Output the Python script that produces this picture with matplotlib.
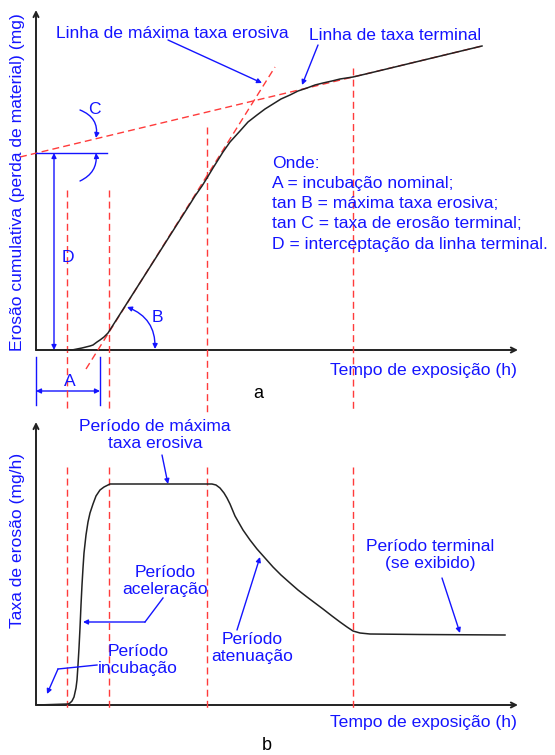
import matplotlib.pyplot as plt
from matplotlib.patches import FancyArrowPatch

plt.rcParams['font.family'] = ['Liberation Sans', 'DejaVu Sans']

AZUL = '#1414ff'
VERM = '#ff3b3b'
FS = 12.6

# (a) erosao cumulativa x tempo (unidades do esquema)
tempo_a = [29, 36, 41, 46, 50, 54, 57, 61, 64, 68, 72, 114, 154, 159, 166,
           171, 177, 182, 187, 194, 204, 212, 221, 229, 237, 245, 254, 262,
           271, 279, 287, 296, 304, 317, 334, 446]
erosao_a = [0, 0, 1, 2, 3, 4, 5, 8, 10, 13, 17, 83, 146, 154, 164,
            172, 182, 190, 198, 208, 219, 228, 235, 241, 246, 251, 255, 259,
            262, 265, 267, 269, 271, 273, 277, 304]
linha_max_x = [50, 239]
linha_max_y = [-19, 283]
linha_term_x = [-16, 446]
linha_term_y = [193, 304]
D_valor = 197
A_valor = 64

# (b) taxa de erosao x tempo
tempo_b = [1, 32, 34, 36, 38, 40, 41, 42, 43, 44, 45, 46, 47, 48, 50, 52,
           54, 57, 60, 64, 68, 74, 176, 180, 184, 188, 191, 194, 199, 207,
           214, 221, 229, 237, 245, 254, 262, 271, 279, 287, 296, 304, 311,
           317, 324, 334, 384, 469]
taxa_b = [0, 1, 2, 4, 8, 17, 25, 40, 57, 77, 100, 120, 137, 152, 170, 183,
          192, 201, 209, 215, 218, 221, 221, 220, 217, 212, 207, 201, 189, 175,
          165, 156, 147, 138, 130, 122, 115, 108, 102, 96, 89, 83, 78,
          74, 72, 71, 70.5, 70]

# limites dos periodos
periodos = [31, 73, 171, 317]
topo_a = [160, 160, 223, 282]

legenda = ['Onde:',
           'A = incubação nominal;',
           'tan B = máxima taxa erosiva;',
           'tan C = taxa de erosão terminal;',
           'D = interceptação da linha terminal.']

fig = plt.figure(figsize=(5.55, 7.55), dpi=100)
ax_a = fig.add_axes([0, 340 / 755, 1, 415 / 755])
ax_b = fig.add_axes([0, 0, 1, 340 / 755])
ax_a.set_xlim(-36, 519)
ax_a.set_ylim(-65, 350)
ax_b.set_xlim(-36, 519)
ax_b.set_ylim(-50, 290)
for ax in (ax_a, ax_b):
    ax.axis('off')
    ax.patch.set_alpha(0)

tracejado = (0, (5, 3))


def seta(ax, p0, p1, estilo='-|>', rad=0.0, cor=AZUL, lw=1.0, ms=8):
    ax.add_patch(FancyArrowPatch(p0, p1, arrowstyle=estilo, mutation_scale=ms,
                                 connectionstyle=f'arc3,rad={rad}', color=cor,
                                 lw=lw, shrinkA=0, shrinkB=0, clip_on=False))


def eixos(ax, topo):
    seta(ax, (0, 0), (0, topo), estilo='->', cor='#222222', lw=1.4, ms=9)
    seta(ax, (0, 0), (482, 0), estilo='->', cor='#222222', lw=1.4, ms=9)


# ---------- painel a ----------
eixos(ax_a, 340)
for x, t in zip(periodos, topo_a):
    ax_a.plot([x, x], [t, -62], color=VERM, lw=1.0, ls=tracejado, clip_on=False)
ax_a.plot(linha_max_x, linha_max_y, color=VERM, lw=1.0, ls=tracejado)
ax_a.plot(linha_term_x, linha_term_y, color=VERM, lw=1.0, ls=tracejado, clip_on=False)
ax_a.plot(tempo_a, erosao_a, color='#222222', lw=1.1)

# D
ax_a.plot([0, 71], [D_valor, D_valor], color=AZUL, lw=1.0)
seta(ax_a, (18, D_valor), (18, 0), estilo='<|-|>', ms=7)
ax_a.text(32, 92, 'D', color=AZUL, fontsize=FS, ha='center', va='center')

# C
seta(ax_a, (44, 240), (60, 212), rad=-0.4, ms=7)
seta(ax_a, (44, 169), (60, D_valor), rad=0.35, ms=7)
ax_a.text(58, 241, 'C', color=AZUL, fontsize=FS, ha='center', va='center')

# B
seta(ax_a, (119, 1), (91, 43), estilo='<|-|>', rad=0.35, ms=7)
ax_a.text(121, 32, 'B', color=AZUL, fontsize=FS, ha='center', va='center')

# A
for x in (0, A_valor):
    ax_a.plot([x, x], [-7, -55], color=AZUL, lw=1.0, clip_on=False)
seta(ax_a, (0, -41), (A_valor, -41), estilo='<|-|>', ms=7)
ax_a.text(34, -31, 'A', color=AZUL, fontsize=FS, ha='center', va='center')

ax_a.text(136, 317, 'Linha de máxima taxa erosiva', color=AZUL, fontsize=FS,
          ha='center', va='center')
seta(ax_a, (132, 310), (226, 267), ms=7)
ax_a.text(359, 315, 'Linha de taxa terminal', color=AZUL, fontsize=FS,
          ha='center', va='center')
seta(ax_a, (282, 305), (266, 265), ms=7)

for i, linha in enumerate(legenda):
    ax_a.text(236, 187 - 20.3 * i, linha, color=AZUL, fontsize=FS,
              ha='left', va='center')

ax_a.text(-18, 168, 'Erosão cumulativa (perda de material) (mg)', color=AZUL,
          fontsize=FS, rotation=90, ha='center', va='center')
ax_a.text(481, -20, 'Tempo de exposição (h)', color=AZUL, fontsize=FS,
          ha='right', va='center')
ax_a.text(222, -43, 'a', color='black', fontsize=13, ha='center', va='center')

# ---------- painel b ----------
eixos(ax_b, 283)
for x in periodos:
    ax_b.plot([x, x], [238, -3], color=VERM, lw=1.0, ls=tracejado, clip_on=False)
ax_b.plot(tempo_b, taxa_b, color='#222222', lw=1.1)

ax_b.text(119, 270, 'Período de máxima\ntaxa erosiva', color=AZUL, fontsize=FS,
          ha='center', va='center', multialignment='center', linespacing=1.1)
seta(ax_b, (126, 250), (132, 221), ms=7)

ax_b.text(129, 124, 'Período\naceleração', color=AZUL, fontsize=FS,
          ha='center', va='center', multialignment='center', linespacing=1.1)
ax_b.plot([127, 109], [107, 83], color=AZUL, lw=1.0)
seta(ax_b, (109, 83), (47, 83), ms=7)

ax_b.text(102, 45, 'Período\nincubação', color=AZUL, fontsize=FS,
          ha='center', va='center', multialignment='center', linespacing=1.1)
ax_b.plot([61, 22], [40, 36], color=AZUL, lw=1.0)
seta(ax_b, (22, 36), (11, 11), ms=7)

ax_b.text(216, 57, 'Período\natenuação', color=AZUL, fontsize=FS,
          ha='center', va='center', multialignment='center', linespacing=1.1)
seta(ax_b, (201, 75), (224, 148), ms=7)

ax_b.text(394, 150, 'Período terminal\n(se exibido)', color=AZUL, fontsize=FS,
          ha='center', va='center', multialignment='center', linespacing=1.1)
seta(ax_b, (406, 127), (424, 72), ms=7)

ax_b.text(-18, 165, 'Taxa de erosão (mg/h)', color=AZUL, fontsize=FS,
          rotation=90, ha='center', va='center')
ax_b.text(481, -18, 'Tempo de exposição (h)', color=AZUL, fontsize=FS,
          ha='right', va='center')
ax_b.text(231, -40, 'b', color='black', fontsize=13, ha='center', va='center')

fig.savefig('out.png', dpi=100)
